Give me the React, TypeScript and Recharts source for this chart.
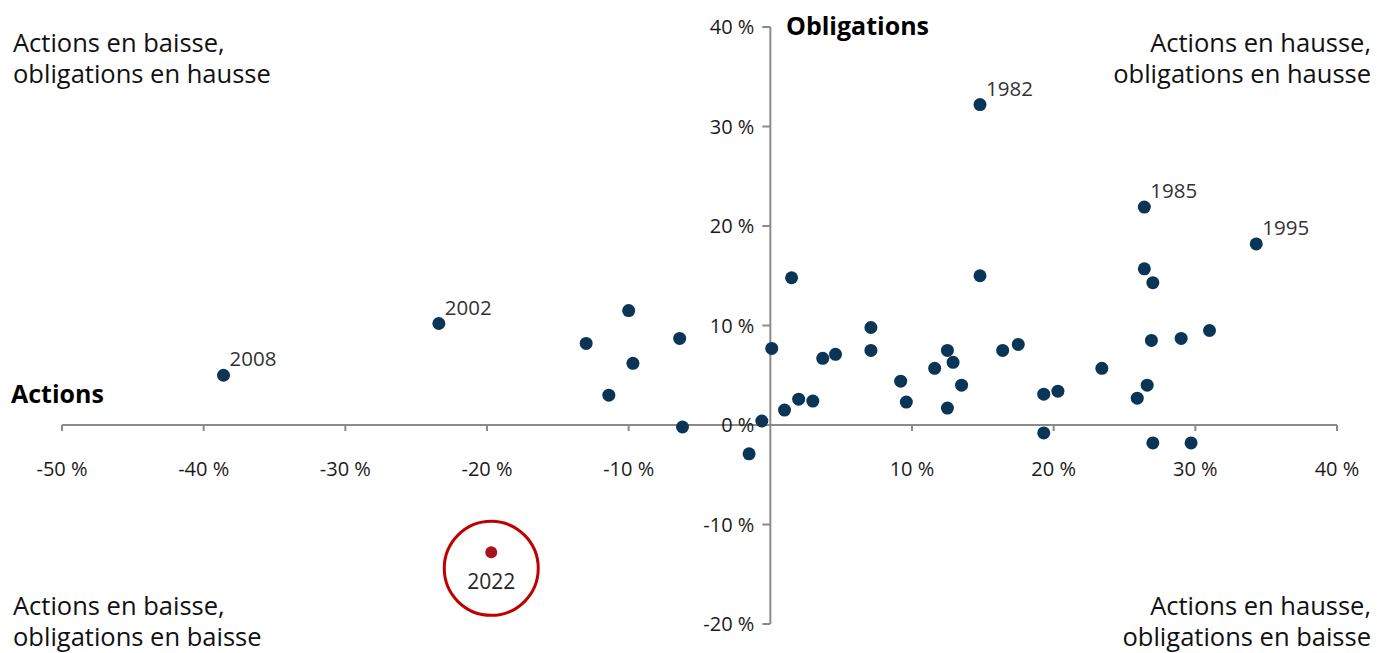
import React from 'react';
import { ScatterChart, Scatter, XAxis, YAxis, ReferenceLine, ReferenceDot } from 'recharts';

// Stock (x) and bond (y) annual returns, in %
const stockReturns = [
  -38.6, -23.4, -13.0, -11.4, -10.0, -9.7, -6.4, -6.2, -1.5, -0.6,
  0.1, 1.0, 1.5, 2.0, 3.0, 3.7, 4.6, 7.1, 7.1, 9.2,
  9.6, 11.6, 12.5, 12.9, 13.5, 12.5, 14.8, 14.8, 16.4, 17.5,
  19.3, 20.3, 19.3, 23.4, 25.9, 26.6, 26.9, 26.4, 27.0, 26.4,
  29.0, 31.0, 27.0, 29.7, 34.3,
];
const bondReturns = [
  5.0, 10.2, 8.2, 3.0, 11.5, 6.2, 8.7, -0.2, -2.9, 0.4,
  7.7, 1.5, 14.8, 2.6, 2.4, 6.7, 7.1, 9.8, 7.5, 4.4,
  2.3, 5.7, 7.5, 6.3, 4.0, 1.7, 15.0, 32.2, 7.5, 8.1,
  3.1, 3.4, -0.8, 5.7, 2.7, 4.0, 8.5, 15.7, 14.3, 21.9,
  8.7, 9.5, -1.8, -1.8, 18.2,
];
const yearLabels = [
  '2008', '2002', '', '', '', '', '', '', '', '',
  '', '', '', '', '', '', '', '', '', '',
  '', '', '', '', '', '', '', '1982', '', '',
  '', '', '', '', '', '', '', '', '', '1985',
  '', '', '', '', '1995',
];
const highlightStock = [-19.7];
const highlightBond = [-12.8];
const highlightLabel = ['2022'];

const xTicks = [-50, -40, -30, -20, -10, 10, 20, 30, 40];
const yTicks = [-20, -10, 0, 10, 20, 30, 40];

const points = stockReturns.map((x, i) => ({ x, y: bondReturns[i], label: yearLabels[i] }));
const highlight = highlightStock.map((x, i) => ({ x, y: highlightBond[i], label: highlightLabel[i] }));

const FONT = '"Open Sans", Lato, sans-serif';
const NAVY = '#0a3556';
const RED = '#a8141c';
const AXIS = '#8a8a8a';

const DotShape = (props: any) => {
  const { cx, cy, payload } = props;
  return (
    <g>
      <circle cx={cx} cy={cy} r={6.5} fill={NAVY} />
      {payload.label ? (
        <text x={cx + 6} y={cy - 9} fontSize={20.5} fontWeight={500} fill="#333" fontFamily={FONT}>
          {payload.label}
        </text>
      ) : null}
    </g>
  );
};

const HighlightShape = (props: any) => {
  const { cx, cy, payload } = props;
  return (
    <g>
      <circle cx={cx} cy={cy + 16} r={47} fill="none" stroke="#c00000" strokeWidth={3} />
      <circle cx={cx} cy={cy} r={6} fill={RED} />
      <text x={cx} y={cy + 37} fontSize={21} fontWeight={500} fill="#262626" fontFamily={FONT} textAnchor="middle">
        {payload.label}
      </text>
    </g>
  );
};

const XTickShape = (v: number) => (props: any) => {
  const { cx, cy } = props;
  return (
    <g>
      <line x1={cx} y1={cy} x2={cx} y2={cy + 6} stroke={AXIS} strokeWidth={2} />
      <text x={cx} y={cy + 51} fontSize={20} fill="#1a1a1a" fontFamily={FONT} textAnchor="middle">
        {`${v} %`}
      </text>
    </g>
  );
};

const YTickShape = (v: number) => (props: any) => {
  const { cx, cy } = props;
  return (
    <g>
      <line x1={cx - 8} y1={cy} x2={cx} y2={cy} stroke={AXIS} strokeWidth={2} />
      <text x={cx - 16} y={cy + 7} fontSize={20} fill="#1a1a1a" fontFamily={FONT} textAnchor="end">
        {`${v} %`}
      </text>
    </g>
  );
};

const quadStyle: React.CSSProperties = {
  position: 'absolute',
  fontFamily: FONT,
  fontSize: 25.5,
  lineHeight: '31px',
  color: '#111',
};

export default function App() {
  return (
    <div style={{ position: 'absolute', left: 0, top: 0, width: 1377, height: 653, background: '#fff', overflow: 'hidden' }}>
      <ScatterChart width={1377} height={653} margin={{ top: 27, right: 40, bottom: 29, left: 62 }}>
        <XAxis type="number" dataKey="x" domain={[-50, 40]} hide />
        <YAxis type="number" dataKey="y" domain={[-20, 40]} hide />
        <ReferenceLine y={0} stroke={AXIS} strokeWidth={2} />
        <ReferenceLine x={0} stroke={AXIS} strokeWidth={2} />
        {xTicks.map((v) => (
          <ReferenceDot key={`xt${v}`} x={v} y={0} r={0} shape={XTickShape(v)} />
        ))}
        {yTicks.map((v) => (
          <ReferenceDot key={`yt${v}`} x={0} y={v} r={0} shape={YTickShape(v)} />
        ))}
        <Scatter data={points} shape={DotShape} isAnimationActive={false} />
        <Scatter data={highlight} shape={HighlightShape} isAnimationActive={false} />
      </ScatterChart>
      <div style={{ ...quadStyle, left: 13, top: 27 }}>Actions en baisse,<br />obligations en hausse</div>
      <div style={{ ...quadStyle, right: 6, top: 27, textAlign: 'right' }}>Actions en hausse,<br />obligations en hausse</div>
      <div style={{ ...quadStyle, left: 13, top: 590 }}>Actions en baisse,<br />obligations en baisse</div>
      <div style={{ ...quadStyle, right: 6, top: 590, textAlign: 'right' }}>Actions en hausse,<br />obligations en baisse</div>
      <div style={{ position: 'absolute', left: 786, top: 10, fontFamily: FONT, fontSize: 25, fontWeight: 700, lineHeight: '31px', color: '#000' }}>Obligations</div>
      <div style={{ position: 'absolute', left: 11, top: 378, fontFamily: FONT, fontSize: 25, fontWeight: 700, lineHeight: '31px', color: '#000' }}>Actions</div>
    </div>
  );
}
